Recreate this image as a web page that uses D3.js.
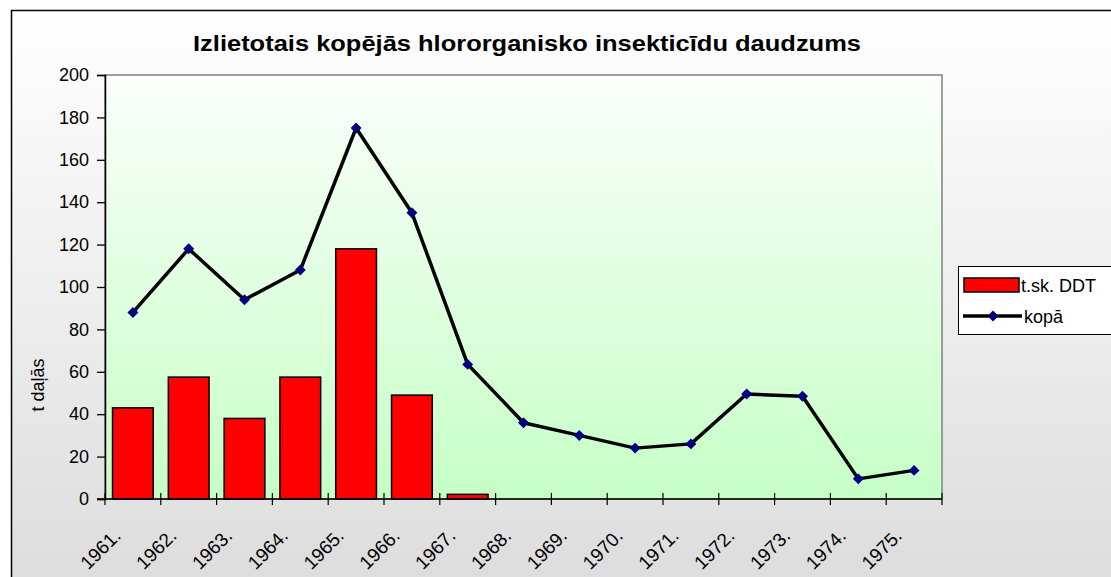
<!DOCTYPE html>
<html>
<head>
<meta charset="utf-8">
<script src="https://cdn.jsdelivr.net/npm/d3@7"></script>
<style>
  body { margin: 0; background: #fff; overflow: hidden; }
  svg { display: block; font-family: "Liberation Sans", Arial, sans-serif; }
</style>
</head>
<body>
<div id="chart"></div>
<script>
const years = ['1961.', '1962.', '1963.', '1964.', '1965.', '1966.', '1967.', '1968.',
  '1969.', '1970.', '1971.', '1972.', '1973.', '1974.', '1975.']
const ddt = [43, 57.5, 38, 57.5, 118, 49, 2.2, null, null, null, null, null, null, null, null]
const total = [88, 118, 94, 108, 175, 135, 63.5, 36, 30, 24, 26, 49.5, 48.5, 9.5, 13.5]
const yTicks = [0, 20, 40, 60, 80, 100, 120, 140, 160, 180, 200]

const width = 1111, height = 577
const plot = { left: 105, top: 75, right: 942, bottom: 499 }

const svg = d3.select('#chart').append('svg')
    .attr('width', width)
    .attr('height', height)

const defs = svg.append('defs')
const bgGrad = defs.append('linearGradient').attr('id', 'bg')
    .attr('x1', 0).attr('y1', 0).attr('x2', 0).attr('y2', 1)
bgGrad.append('stop').attr('offset', '0%').attr('stop-color', '#ffffff')
bgGrad.append('stop').attr('offset', '100%').attr('stop-color', '#dcdcdc')

const plotGrad = defs.append('linearGradient').attr('id', 'plotbg')
    .attr('x1', 0).attr('y1', 0).attr('x2', 0).attr('y2', 1)
plotGrad.append('stop').attr('offset', '0%').attr('stop-color', '#fbfffb')
plotGrad.append('stop').attr('offset', '100%').attr('stop-color', '#c6ffc6')

// chart frame
svg.append('rect')
    .attr('x', 11.5).attr('y', 10.5)
    .attr('width', width + 10).attr('height', height + 10)
    .attr('fill', 'url(#bg)')
    .attr('stroke', '#000')
    .attr('stroke-width', 1.5)

svg.append('text')
    .attr('x', 527).attr('y', 51)
    .attr('text-anchor', 'middle')
    .attr('font-size', 22)
    .attr('font-weight', 'bold')
    .attr('font-family', '"Liberation Sans Narrow", "Liberation Sans", Arial, sans-serif')
    .attr('textLength', 668)
    .attr('lengthAdjust', 'spacingAndGlyphs')
    .text('Izlietotais kopējās hlororganisko insekticīdu daudzums')

const x = d3.scaleBand().domain(years).range([plot.left, plot.right])
    .paddingInner(0.27).paddingOuter(0.135)
const xs = d3.scaleBand().domain(years).range([plot.left, plot.right])
const y = d3.scaleLinear().domain([0, 200]).range([plot.bottom, plot.top])

svg.append('rect')
    .attr('x', plot.left).attr('y', plot.top)
    .attr('width', plot.right - plot.left).attr('height', plot.bottom - plot.top)
    .attr('fill', 'url(#plotbg)')
    .attr('stroke', '#808080')
    .attr('stroke-width', 1.5)

// bars
svg.append('g').selectAll('rect')
    .data(years.map((yr, i) => ({ yr, v: ddt[i] })).filter(d => d.v != null))
    .enter().append('rect')
    .attr('x', d => x(d.yr))
    .attr('y', d => y(d.v))
    .attr('width', x.bandwidth())
    .attr('height', d => y(0) - y(d.v))
    .attr('fill', '#ff0000')
    .attr('stroke', '#000')
    .attr('stroke-width', 1.5)

// y axis
const yAxis = svg.append('g')
    .attr('transform', 'translate(' + plot.left + ',0)')
    .call(d3.axisLeft(y).tickValues(yTicks).tickSize(8).tickPadding(8))
yAxis.select('.domain').attr('stroke', '#000').attr('stroke-width', 1.5)
yAxis.selectAll('.tick line').attr('stroke', '#000').attr('stroke-width', 1.3)
yAxis.selectAll('text').attr('font-size', 18).attr('fill', '#000')
    .attr('font-family', '"Liberation Sans", Arial, sans-serif')

// x axis (ticks between categories, crossing the axis)
const xAxis = svg.append('g')
    .attr('transform', 'translate(0,' + plot.bottom + ')')
xAxis.append('line')
    .attr('x1', plot.left - 8).attr('x2', plot.right)
    .attr('stroke', '#000').attr('stroke-width', 1.5)
xAxis.selectAll('.sep')
    .data(years.concat(['end']))
    .enter().append('line')
    .attr('x1', (d, i) => plot.left + i * xs.step())
    .attr('x2', (d, i) => plot.left + i * xs.step())
    .attr('y1', -6).attr('y2', 6)
    .attr('stroke', '#000').attr('stroke-width', 1.2)
xAxis.selectAll('.lbl')
    .data(years)
    .enter().append('text')
    .attr('transform', d => 'translate(' + (xs(d) + xs.bandwidth() / 2 - 11) + ',38) rotate(-45)')
    .attr('text-anchor', 'end')
    .attr('font-size', 19)
    .text(d => d)

// line series
const line = d3.line()
    .x((d, i) => xs(years[i]) + xs.bandwidth() / 2)
    .y(d => y(d))

svg.append('path')
    .datum(total)
    .attr('d', line)
    .attr('fill', 'none')
    .attr('stroke', '#000')
    .attr('stroke-width', 3.5)
    .attr('stroke-linejoin', 'round')

const diamond = d3.symbol().type(d3.symbolSquare).size(60)
svg.append('g').selectAll('path')
    .data(total)
    .enter().append('path')
    .attr('d', diamond)
    .attr('transform', (d, i) => 'translate(' + (xs(years[i]) + xs.bandwidth() / 2) + ',' + y(d) + ') rotate(45)')
    .attr('fill', '#000080')

// y axis title
svg.append('text')
    .attr('transform', 'translate(44,385) rotate(-90)')
    .attr('text-anchor', 'middle')
    .attr('font-size', 18)
    .text('t daļās')

// legend
const legend = svg.append('g').attr('transform', 'translate(958,266)')
legend.append('rect')
    .attr('x', 0.5).attr('y', 0.5)
    .attr('width', 170).attr('height', 68)
    .attr('fill', '#ffffff')
    .attr('stroke', '#000')
legend.append('rect')
    .attr('x', 6).attr('y', 12)
    .attr('width', 55).attr('height', 14)
    .attr('fill', '#ff0000')
    .attr('stroke', '#000')
    .attr('stroke-width', 1.5)
legend.append('text')
    .attr('x', 63).attr('y', 26)
    .attr('font-size', 18)
    .text('t.sk. DDT')
legend.append('line')
    .attr('x1', 5).attr('x2', 64)
    .attr('y1', 50).attr('y2', 50)
    .attr('stroke', '#000').attr('stroke-width', 3.5)
legend.append('path')
    .attr('d', diamond)
    .attr('transform', 'translate(35,50) rotate(45)')
    .attr('fill', '#000080')
legend.append('text')
    .attr('x', 66).attr('y', 57)
    .attr('font-size', 18)
    .text('kopā')
</script>
</body>
</html>
